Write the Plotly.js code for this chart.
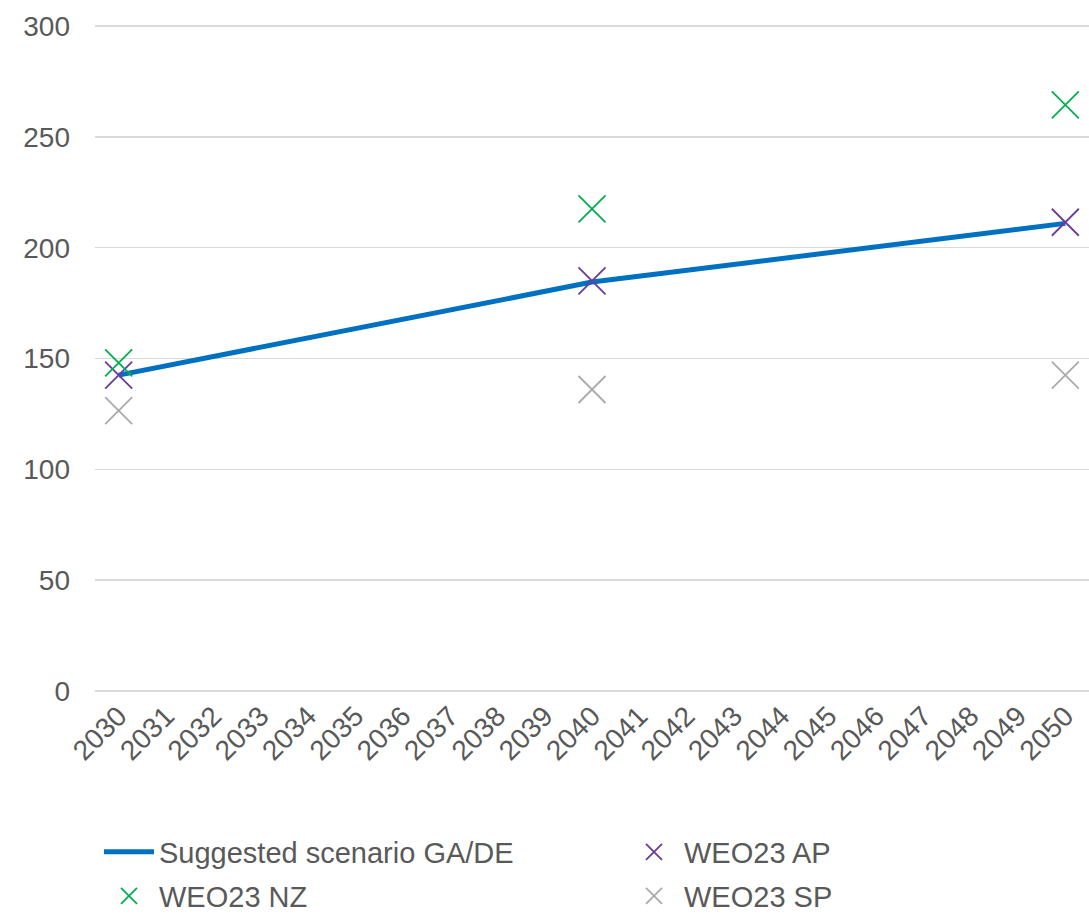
<!DOCTYPE html>
<html><head><meta charset="utf-8">
<script src="https://cdn.plot.ly/plotly-3.0.1.min.js"></script>
<style>html,body{margin:0;padding:0;background:#fff}#chart{width:1089px;height:914px}</style>
</head><body><div id="chart"></div>
<script>
const years = [];
for (let y = 2030; y <= 2050; y++) years.push(y);
const lineYears = [2030, 2040, 2050];
const suggested = [142.5, 184.5, 211];
const pointYears = [2030, 2040, 2050];
const weoAP = [142.5, 185, 211.5];
const weoNZ = [148, 217.5, 264.5];
const weoSP = [126.5, 136, 142.5];

const mk = (name, ys, color, leg) => ({
  type: 'scatter', mode: 'markers', name: name, x: pointYears, y: ys, legend: leg,
  marker: {symbol: 'x-thin-open', size: 27, color: color, line: {color: color, width: 1.8}},
  hoverinfo: 'x+y'
});

const data = [
  {type: 'scatter', mode: 'lines', name: 'Suggested scenario GA/DE', x: lineYears, y: suggested,
   line: {color: '#0070C0', width: 5}, legend: 'legend'},
  mk('WEO23 AP', weoAP, '#6A3A9C', 'legend3'),
  mk('WEO23 NZ', weoNZ, '#00B050', 'legend2'),
  mk('WEO23 SP', weoSP, '#AAAAAA', 'legend4')
];

const font = {family: 'Liberation Sans, Arial, sans-serif', size: 28, color: '#595959'};
const legFont = {family: 'Liberation Sans, Arial, sans-serif', size: 29, color: '#595959'};
const leg = (x, yPix) => ({
  orientation: 'h', xref: 'container', x: x / 1089, xanchor: 'left',
  yref: 'container', y: 1 - yPix / 914, yanchor: 'middle',
  font: legFont, itemwidth: 50, bgcolor: 'rgba(0,0,0,0)'
});
const layout = {
  width: 1089, height: 914,
  margin: {l: 95, r: 0, t: 24, b: 221},
  paper_bgcolor: '#fff', plot_bgcolor: '#fff',
  font: font,
  showlegend: true,
  xaxis: {
    range: [2029.5, 2050.5], tickmode: 'array', tickvals: years, ticktext: years.map(String),
    tickangle: -45, showgrid: false, zeroline: false, showline: false, ticks: '',
    tickfont: font, fixedrange: true, automargin: false
  },
  yaxis: {
    range: [-1, 301], tickmode: 'array', tickvals: [0, 50, 100, 150, 200, 250, 300],
    showgrid: true, gridcolor: '#D9D9D9', gridwidth: 1.5,
    zeroline: false, showline: false, ticks: '', tickfont: font, ticklabelstandoff: 24, automargin: false
  },
  legend: leg(99, 852),
  legend3: leg(624, 852),
  legend2: leg(99, 896),
  legend4: leg(624, 896)
};
Plotly.newPlot('chart', data, layout, {displayModeBar: false, staticPlot: true});
</script></body></html>
